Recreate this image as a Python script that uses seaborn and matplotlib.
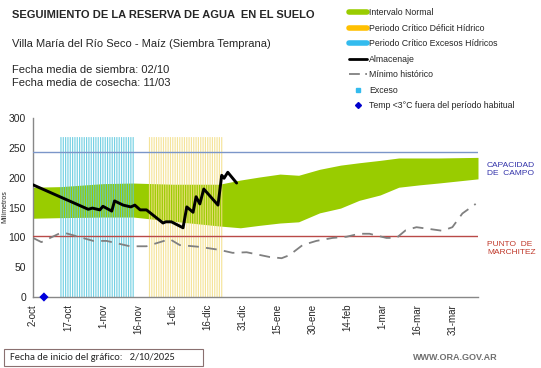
import numpy as np
import pandas as pd
import matplotlib
matplotlib.use('Agg')
import matplotlib.pyplot as plt
import seaborn as sns
from matplotlib.lines import Line2D
from matplotlib.patches import Rectangle

# days counted from the chart start (2/10/2025)
band_days = [0, 12, 30, 43, 60, 80, 89, 97, 106, 114, 123, 132, 140, 149, 157, 166, 174, 191]
band_upper = [184, 185, 190, 191, 189, 189, 196, 201, 206, 204, 214, 221, 225, 229, 233, 233, 233, 234]
band_lower = [132, 133, 134, 134, 127, 119, 116, 120, 124, 126, 141, 149, 162, 171, 184, 188, 191, 198]

alm_days = [0, 23.7, 25.5, 28.7, 30, 33.8, 35, 38.7, 42, 43.7, 46, 48.7, 55.8, 57, 59.4,
            64.4, 66, 68.7, 70, 71.6, 73.3, 79.4, 81, 82, 83.6, 87.4]
alm_vals = [188, 147, 149, 146, 152, 144, 161, 154, 151, 154, 146, 146, 124, 126, 126,
            116, 151, 142, 168, 156, 181, 154, 204, 199, 209, 191]

min_days = [0, 3.6, 11.6, 14, 25.9, 31.6, 41.6, 48.7, 58.7, 63, 71.6, 80, 85.7, 91.7, 101.6,
            106.7, 110, 115.7, 121.6, 128.6, 134.6, 140, 144.4, 151.7, 156, 160, 164.6,
            175.7, 180, 184.3, 190]
min_vals = [99, 92, 107, 107, 94, 94, 85, 85, 97, 87, 84, 79, 74, 75, 67,
            65, 70, 87, 94, 99, 101, 106, 106, 99, 99, 112, 117,
            111, 117, 140, 156]

exceso_period = (12, 43)   # Periodo critico excesos hidricos
deficit_period = (50, 81)  # Periodo critico deficit hidrico
period_height = 268

capacidad = 243
marchitez = 102
frost_days = [4.7]
frost_vals = [0]

tick_days = [0, 15, 30, 45, 60, 75, 90, 105, 120, 135, 150, 165, 180]
tick_labels = ['2-oct', '17-oct', '1-nov', '16-nov', '1-dic', '16-dic', '31-dic',
               '15-ene', '30-ene', '14-feb', '1-mar', '16-mar', '31-mar']

sns.set_style('white')
plt.rcParams['font.family'] = ['Liberation Sans', 'DejaVu Sans']

fig = plt.figure(figsize=(5.41, 3.68), dpi=100)
ax = fig.add_axes([33 / 541, 1 - 297 / 368, (478 - 33) / 541, (297 - 118) / 368])

green = '#99cc00'
cyan = '#5cc8de'
yellow = '#f3df88'

# normal interval band
ax.fill_between(band_days, band_lower, band_upper, color=green, lw=0, zorder=1)

# critical periods, one thin stripe per day
exc_days = np.arange(exceso_period[0], exceso_period[1] + 1)
def_days = np.arange(deficit_period[0], deficit_period[1] + 1)
ax.bar(exc_days, period_height, width=0.5, color=cyan, alpha=0.85, lw=0, zorder=2, snap=False)
ax.bar(def_days, period_height, width=0.5, color=yellow, alpha=0.85, lw=0, zorder=2, snap=False)

# reference lines
ax.plot([0, 191], [capacidad, capacidad], color='#7b96c9', lw=1.0, zorder=3)
ax.plot([0, 191], [marchitez, marchitez], color='#b94a48', lw=1.0, zorder=3)

df_min = pd.DataFrame({'dia': min_days, 'mm': min_vals})
sns.lineplot(data=df_min, x='dia', y='mm', ax=ax, color='#808080', lw=1.3,
             dashes=False, zorder=4).lines[-1].set_dashes([6, 4])

df_alm = pd.DataFrame({'dia': alm_days, 'mm': alm_vals})
sns.lineplot(data=df_alm, x='dia', y='mm', ax=ax, color='black', lw=2.1, zorder=5)

df_frost = pd.DataFrame({'dia': frost_days, 'mm': frost_vals})
sns.scatterplot(data=df_frost, x='dia', y='mm', ax=ax, marker='D', color='#0000dd',
                s=22, edgecolor='none', zorder=6, clip_on=False)

ax.set_xlim(0, 191)
ax.set_ylim(0, 300)
ax.set_xticks(tick_days)
ax.set_xticklabels(tick_labels, rotation=90, fontsize=7)
ax.set_yticks(range(0, 301, 50))
ax.tick_params(axis='y', labelsize=7.5, length=3, color='#888888', pad=2)
ax.tick_params(axis='x', length=3, color='#888888', pad=2)
ax.set_xlabel('')
ax.set_ylabel('')
for s in ['top', 'right']:
    ax.spines[s].set_visible(False)
for s in ['left', 'bottom']:
    ax.spines[s].set_color('#888888')
    ax.spines[s].set_linewidth(1.0)
fig.text(5 / 541, 1 - 207 / 368, 'Milímetros', fontsize=5.0, rotation=90,
         ha='center', va='center')

# labels for the reference lines
fig.text(487 / 541, 1 - 170 / 368, 'CAPACIDAD\nDE  CAMPO', color='#3333aa',
         fontsize=6, va='center', linespacing=1.2)
fig.text(487 / 541, 1 - 249 / 368, 'PUNTO  DE\nMARCHITEZ', color='#c0392b',
         fontsize=6, va='center', linespacing=1.2)

# titles
fig.text(12 / 541, 1 - 15 / 368, 'SEGUIMIENTO DE LA RESERVA DE AGUA  EN EL SUELO',
         fontsize=8.0, fontweight='bold', va='center')
fig.text(12 / 541, 1 - 44 / 368, 'Villa María del Río Seco - Maíz (Siembra Temprana)',
         fontsize=8, va='center')
fig.text(12 / 541, 1 - 70 / 368, 'Fecha media de siembra: 02/10', fontsize=8, va='center')
fig.text(12 / 541, 1 - 83 / 368, 'Fecha media de cosecha: 11/03', fontsize=8, va='center')

# legend
handles = [
    Line2D([], [], color=green, lw=4),
    Line2D([], [], color='#ffc000', lw=4),
    Line2D([], [], color='#33bbee', lw=4),
    Line2D([], [], color='black', lw=2),
    Line2D([], [], color='#808080', lw=1.3, dashes=[6, 3]),
    Line2D([], [], color='#33bbee', marker='s', ms=2.5, lw=0),
    Line2D([], [], color='#0000cc', marker='D', ms=3, lw=0),
]
labels = ['Intervalo Normal', 'Periodo Crítico Déficit Hídrico',
          'Periodo Crítico Excesos Hídricos', 'Almacenaje', 'Mínimo histórico',
          'Exceso', 'Temp <3°C fuera del período habitual']
fig.legend(handles, labels, loc='upper left', bbox_to_anchor=(349 / 541, 1 - 8 / 368),
           frameon=False, fontsize=6.3, handlelength=2.0, handletextpad=0.3,
           labelspacing=0.75, borderaxespad=0, borderpad=0)

# bottom notes
fig.patches.append(Rectangle((4 / 541, 1 - 366 / 368), 199 / 541, 17 / 368,
                             transform=fig.transFigure, fc='white', ec='#8a7070', lw=0.8))
fig.text(10 / 541, 1 - 358 / 368, 'Fecha de inicio del gráfico:   2/10/2025', fontsize=7.5,
         va='center', family=['Carlito', 'Liberation Sans', 'DejaVu Sans'])
fig.text(498 / 541, 1 - 358 / 368, 'WWW.ORA.GOV.AR', fontsize=6.5, color='#707070',
         ha='right', va='center', fontweight='bold')

fig.savefig('out.png', dpi=100)
